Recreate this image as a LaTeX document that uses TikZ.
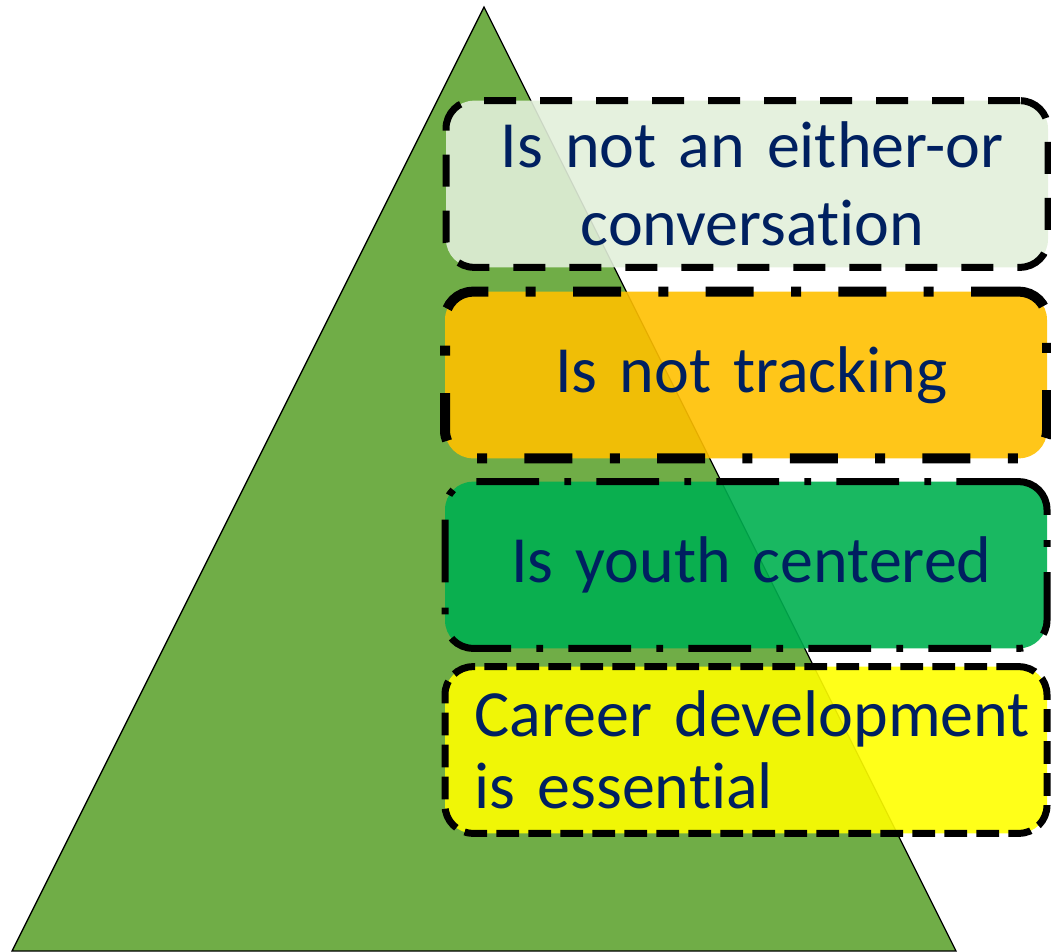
\documentclass[tikz,border=0pt]{standalone}
\usepackage{fontspec}
\setmainfont{Carlito}[Ligatures=NoCommon]
\usetikzlibrary{positioning}
\definecolor{pyramidcolor}{RGB}{112, 173, 71}
\definecolor{eithercolor}{RGB}{226, 239, 218}
\definecolor{trackingcolor}{RGB}{255, 192, 0}
\definecolor{youthcolor}{RGB}{0, 176, 80}
\definecolor{careercolor}{RGB}{255, 255, 0}
\definecolor{labelcolor}{RGB}{0, 32, 96}

\begin{document}
\begin{tikzpicture}[
    x=0.75pt, y=-0.75pt,
    block/.style={rectangle, rounded corners=21pt, draw=black, fill opacity=0.9, text opacity=1,
                  text=labelcolor, minimum width=451.5pt, minimum height=125pt, inner xsep=8pt,
                  text width=435pt, font=\fontsize{49.5}{58.5}\selectfont},
    dashline/.style={line width=5.25pt, dash pattern=on 24pt off 18pt},
    dotline/.style={line width=5.25pt, dash pattern=on 17pt off 7pt},
    dashdot/.style={line width=7.5pt, dash pattern=on 36pt off 28pt on 7.5pt off 28pt},
    longdashdot/.style={line width=5.25pt, dash pattern=on 47pt off 19pt on 5pt off 19pt}
]

% Frame
\useasboundingbox (0, 0) rectangle (1051, 951);
\clip (0, 0) rectangle (1051, 951);

% Pyramid
\draw[fill=pyramidcolor, line width=1pt, line join=miter] (484, 7) -- (956, 951) -- (12, 951) -- cycle;

% Statements
\node[block, dashline, fill=eithercolor, align=center] (either) at (747, 184)
      {\hspace*{8pt}Is not an either-or\\\hspace*{8pt}conversation};
\node[block, dashdot, fill=trackingcolor, align=center] (tracking) at (746, 375)
      {\hspace*{8pt}Is not tracking};
\node[block, longdashdot, fill=youthcolor, align=center] (youth) at (746, 565)
      {\hspace*{8pt}Is youth centered};
\node[block, dotline, fill=careercolor, align=left,
      font=\fontsize{49.5}{54}\selectfont] (career) at (746, 750)
      {\hspace*{14pt}Career development\\\hspace*{14pt}is essential};

\end{tikzpicture}
\end{document}
